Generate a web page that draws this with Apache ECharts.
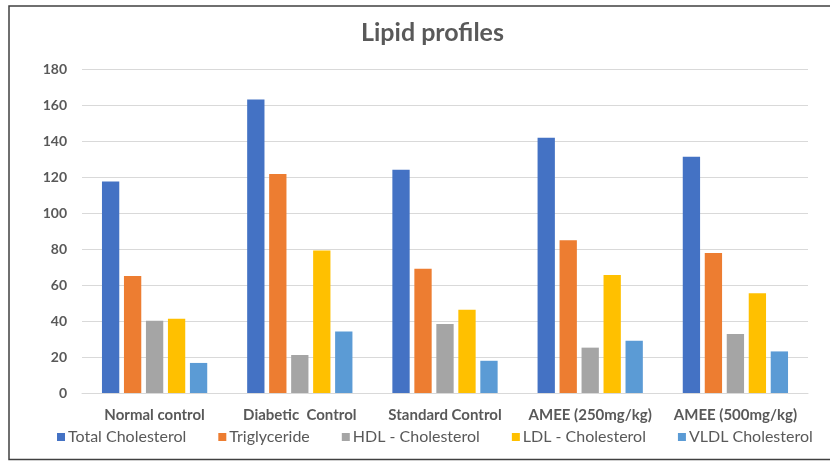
<!DOCTYPE html>
<html><head><meta charset="utf-8">
<script src="https://cdn.jsdelivr.net/npm/echarts@6/dist/echarts.min.js"></script>
<style>html,body{margin:0;padding:0;background:#fff}#c{width:830px;height:461px}</style>
</head><body><div id="c"></div>
<script>
const categories = ['Normal control', 'Diabetic  Control', 'Standard Control', 'AMEE (250mg/kg)', 'AMEE (500mg/kg)'];
const totalCholesterol = [117.5, 163, 124, 141.8, 131.3];
const triglyceride = [65, 121.7, 69, 84.8, 77.8];
const hdlCholesterol = [40.2, 21.1, 38.3, 25.2, 32.8];
const ldlCholesterol = [41.3, 79.1, 46.3, 65.5, 55.4];
const vldlCholesterol = [16.7, 34.2, 17.9, 29, 23.1];
const seriesNames = ['Total Cholesterol', 'Triglyceride', 'HDL - Cholesterol', 'LDL - Cholesterol', 'VLDL Cholesterol'];
const colors = ['#4472C4', '#ED7D31', '#A5A5A5', '#FFC000', '#5B9BD5'];
const seriesData = [totalCholesterol, triglyceride, hdlCholesterol, ldlCholesterol, vldlCholesterol];

const font = 'Lato, "Open Sans", sans-serif';
const chart = echarts.init(document.getElementById('c'), null, {renderer: 'canvas'});
chart.setOption({
  animation: false,
  color: colors,
  title: {
    text: 'Lipid profiles', left: 356, top: 15,
    textStyle: {fontFamily: font, fontSize: 25, fontWeight: 'bold', color: '#595959'}
  },
  legend: {
    bottom: 11, left: 52, itemWidth: 8, itemHeight: 8, itemGap: 32,
    icon: 'rect',
    textStyle: {fontFamily: font, fontSize: 16, color: '#595959', padding: [0, 0, 0, -2]},
    data: seriesNames
  },
  grid: {left: 82, right: 22, top: 69, bottom: 68},
  xAxis: {
    type: 'category', data: categories,
    axisLine: {lineStyle: {color: '#D9D9D9', width: 1}},
    axisTick: {show: false},
    axisLabel: {interval: 0, fontFamily: font, fontSize: 15, fontWeight: 'bold', color: '#595959', margin: 15},
  },
  yAxis: {
    type: 'value', min: 0, max: 180, interval: 20,
    axisLine: {show: false}, axisTick: {show: false},
    axisLabel: {fontFamily: font, fontSize: 14, fontWeight: 'bold', color: '#595959', margin: 15},
    splitLine: {lineStyle: {color: '#D9D9D9', width: 1}}
  },
  series: seriesNames.map((n, i) => ({
    name: n, type: 'bar', data: seriesData[i],
    barGap: '27%', barCategoryGap: '27.5%'
  })),
  graphic: [{
    type: 'polyline', silent: true,
    shape: {points: [[830, 6], [9, 6], [9, 459.5], [830, 459.5]]},
    style: {stroke: '#404040', lineWidth: 1.5, fill: null}
  }]
});
</script></body></html>
